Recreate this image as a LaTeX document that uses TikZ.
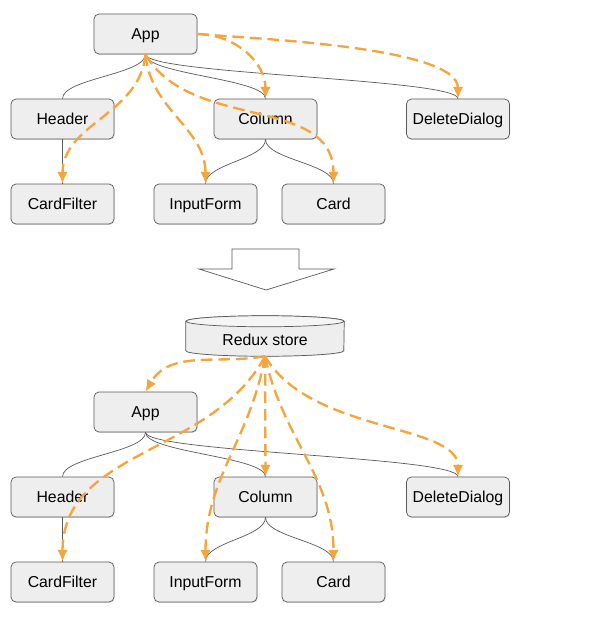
\documentclass[tikz,border=0pt]{standalone}
\usepackage{fontspec}
\setmainfont{Liberation Sans}
\usetikzlibrary{arrows.meta,shadows}
\definecolor{boxgray}{HTML}{EEEEEE}
\definecolor{linegray}{HTML}{595959}
\definecolor{storeorange}{HTML}{F6A43C}
\tikzset{
  comp/.style={draw=linegray, fill=boxgray, rounded corners=0.15cm,
    minimum width=3.09cm, minimum height=1.2cm, line width=0.6pt,
    font=\fontsize{13.5}{15}\selectfont, text height=9.4pt, text depth=0pt,
    drop shadow={shadow xshift=0.6pt, shadow yshift=-0.8pt, opacity=0.25}},
  child/.style={draw=linegray, line width=0.6pt},
  scurve/.style={to path={.. controls +(0,-20) and +(0,20) .. (\tikztotarget)}},
  flow/.style={draw=storeorange, line width=2pt, dash pattern=on 10pt off 5pt,
    -{Latex[length=10pt,width=9pt]}}
}
\begin{document}
\begin{tikzpicture}[x=0.03cm,y=0.03cm]
  \useasboundingbox (0,0) rectangle (609,-619);
  % the two component trees, before and after
  \foreach \t/\dy in {1/0, 2/378} {
    \node[comp] (app\t)          at (145.5,-34-\dy) {App};
    \node[comp] (header\t)       at (62.5,-119-\dy) {Header};
    \node[comp] (column\t)       at (265.5,-119-\dy) {Column};
    \node[comp] (deletedialog\t) at (458,-119-\dy) {DeleteDialog};
    \node[comp] (cardfilter\t)   at (62.5,-204-\dy) {CardFilter};
    \node[comp] (inputform\t)    at (205.5,-204-\dy) {InputForm};
    \node[comp] (card\t)         at (333.5,-204-\dy) {Card};
    % parent -> child
    \draw[child] (app\t.south) to[scurve] (header\t.north);
    \draw[child] (app\t.south) to[scurve] (column\t.north);
    \draw[child] (app\t.south) to[scurve] (deletedialog\t.north);
    \draw[child] (header\t) -- (cardfilter\t);
    \draw[child] (column\t.south) to[scurve] (inputform\t.north);
    \draw[child] (column\t.south) to[scurve] (card\t.north);
  }
  % props passed down from App
  \draw[flow] (app1.east) to[out=0,in=90] (column1.north);
  \draw[flow] (app1.east) to[out=-5,in=90,looseness=0.5] (deletedialog1.north);
  \draw[flow] (app1.south) to[out=-95,in=90] (cardfilter1.north);
  \draw[flow] (app1.south) to[out=-85,in=90] (inputform1.north);
  \draw[flow] (app1.south) to[out=-60,in=90] (card1.north);
  % big arrow
  \draw[linegray, line width=0.6pt, fill=white] (232,-249) -- (299,-249) -- (299,-269)
    -- (334,-269) -- (266,-290) -- (199,-269) -- (232,-269) -- cycle;
  % Redux store
  \node[minimum width=4.74cm, minimum height=1.2cm] (store) at (265,-336) {};
  \fill[black, opacity=0.2] ([shift={(0.6pt,-0.8pt)}]store.north west) ++(0,-5.5)
    -- ++(0,-29) arc[start angle=180,end angle=360,x radius=79,y radius=5.5]
    -- ++(0,29) -- cycle;
  \filldraw[draw=linegray, fill=boxgray, line width=0.6pt] ([yshift=-0.165cm]store.north west)
    -- ([yshift=0.165cm]store.south west)
    arc[start angle=180,end angle=360,x radius=79,y radius=5.5]
    -- ([yshift=-0.165cm]store.north east)
    arc[start angle=0,end angle=180,x radius=79,y radius=5.5] -- cycle;
  \filldraw[draw=linegray, fill=boxgray!60!white, line width=0.6pt]
    ([yshift=-0.165cm]store.north) ellipse[x radius=79,y radius=5.5];
  \node[font=\fontsize{13.5}{15}\selectfont, text height=9.4pt, text depth=0pt]
    at (265,-340) {Redux store};
  % props passed down from the store
  \draw[flow] (store.south) to[out=-170,in=60] (app2.north);
  \draw[flow] (store.south) to[out=-118,in=90] (cardfilter2.north);
  \draw[flow] (store.south) to[out=-100,in=90] (inputform2.north);
  \draw[flow] (store.south) -- (column2.north);
  \draw[flow] (store.south) to[out=-78,in=90] (card2.north);
  \draw[flow] (store.south) to[out=-60,in=90,in looseness=0.6] (deletedialog2.north);
\end{tikzpicture}
\end{document}
